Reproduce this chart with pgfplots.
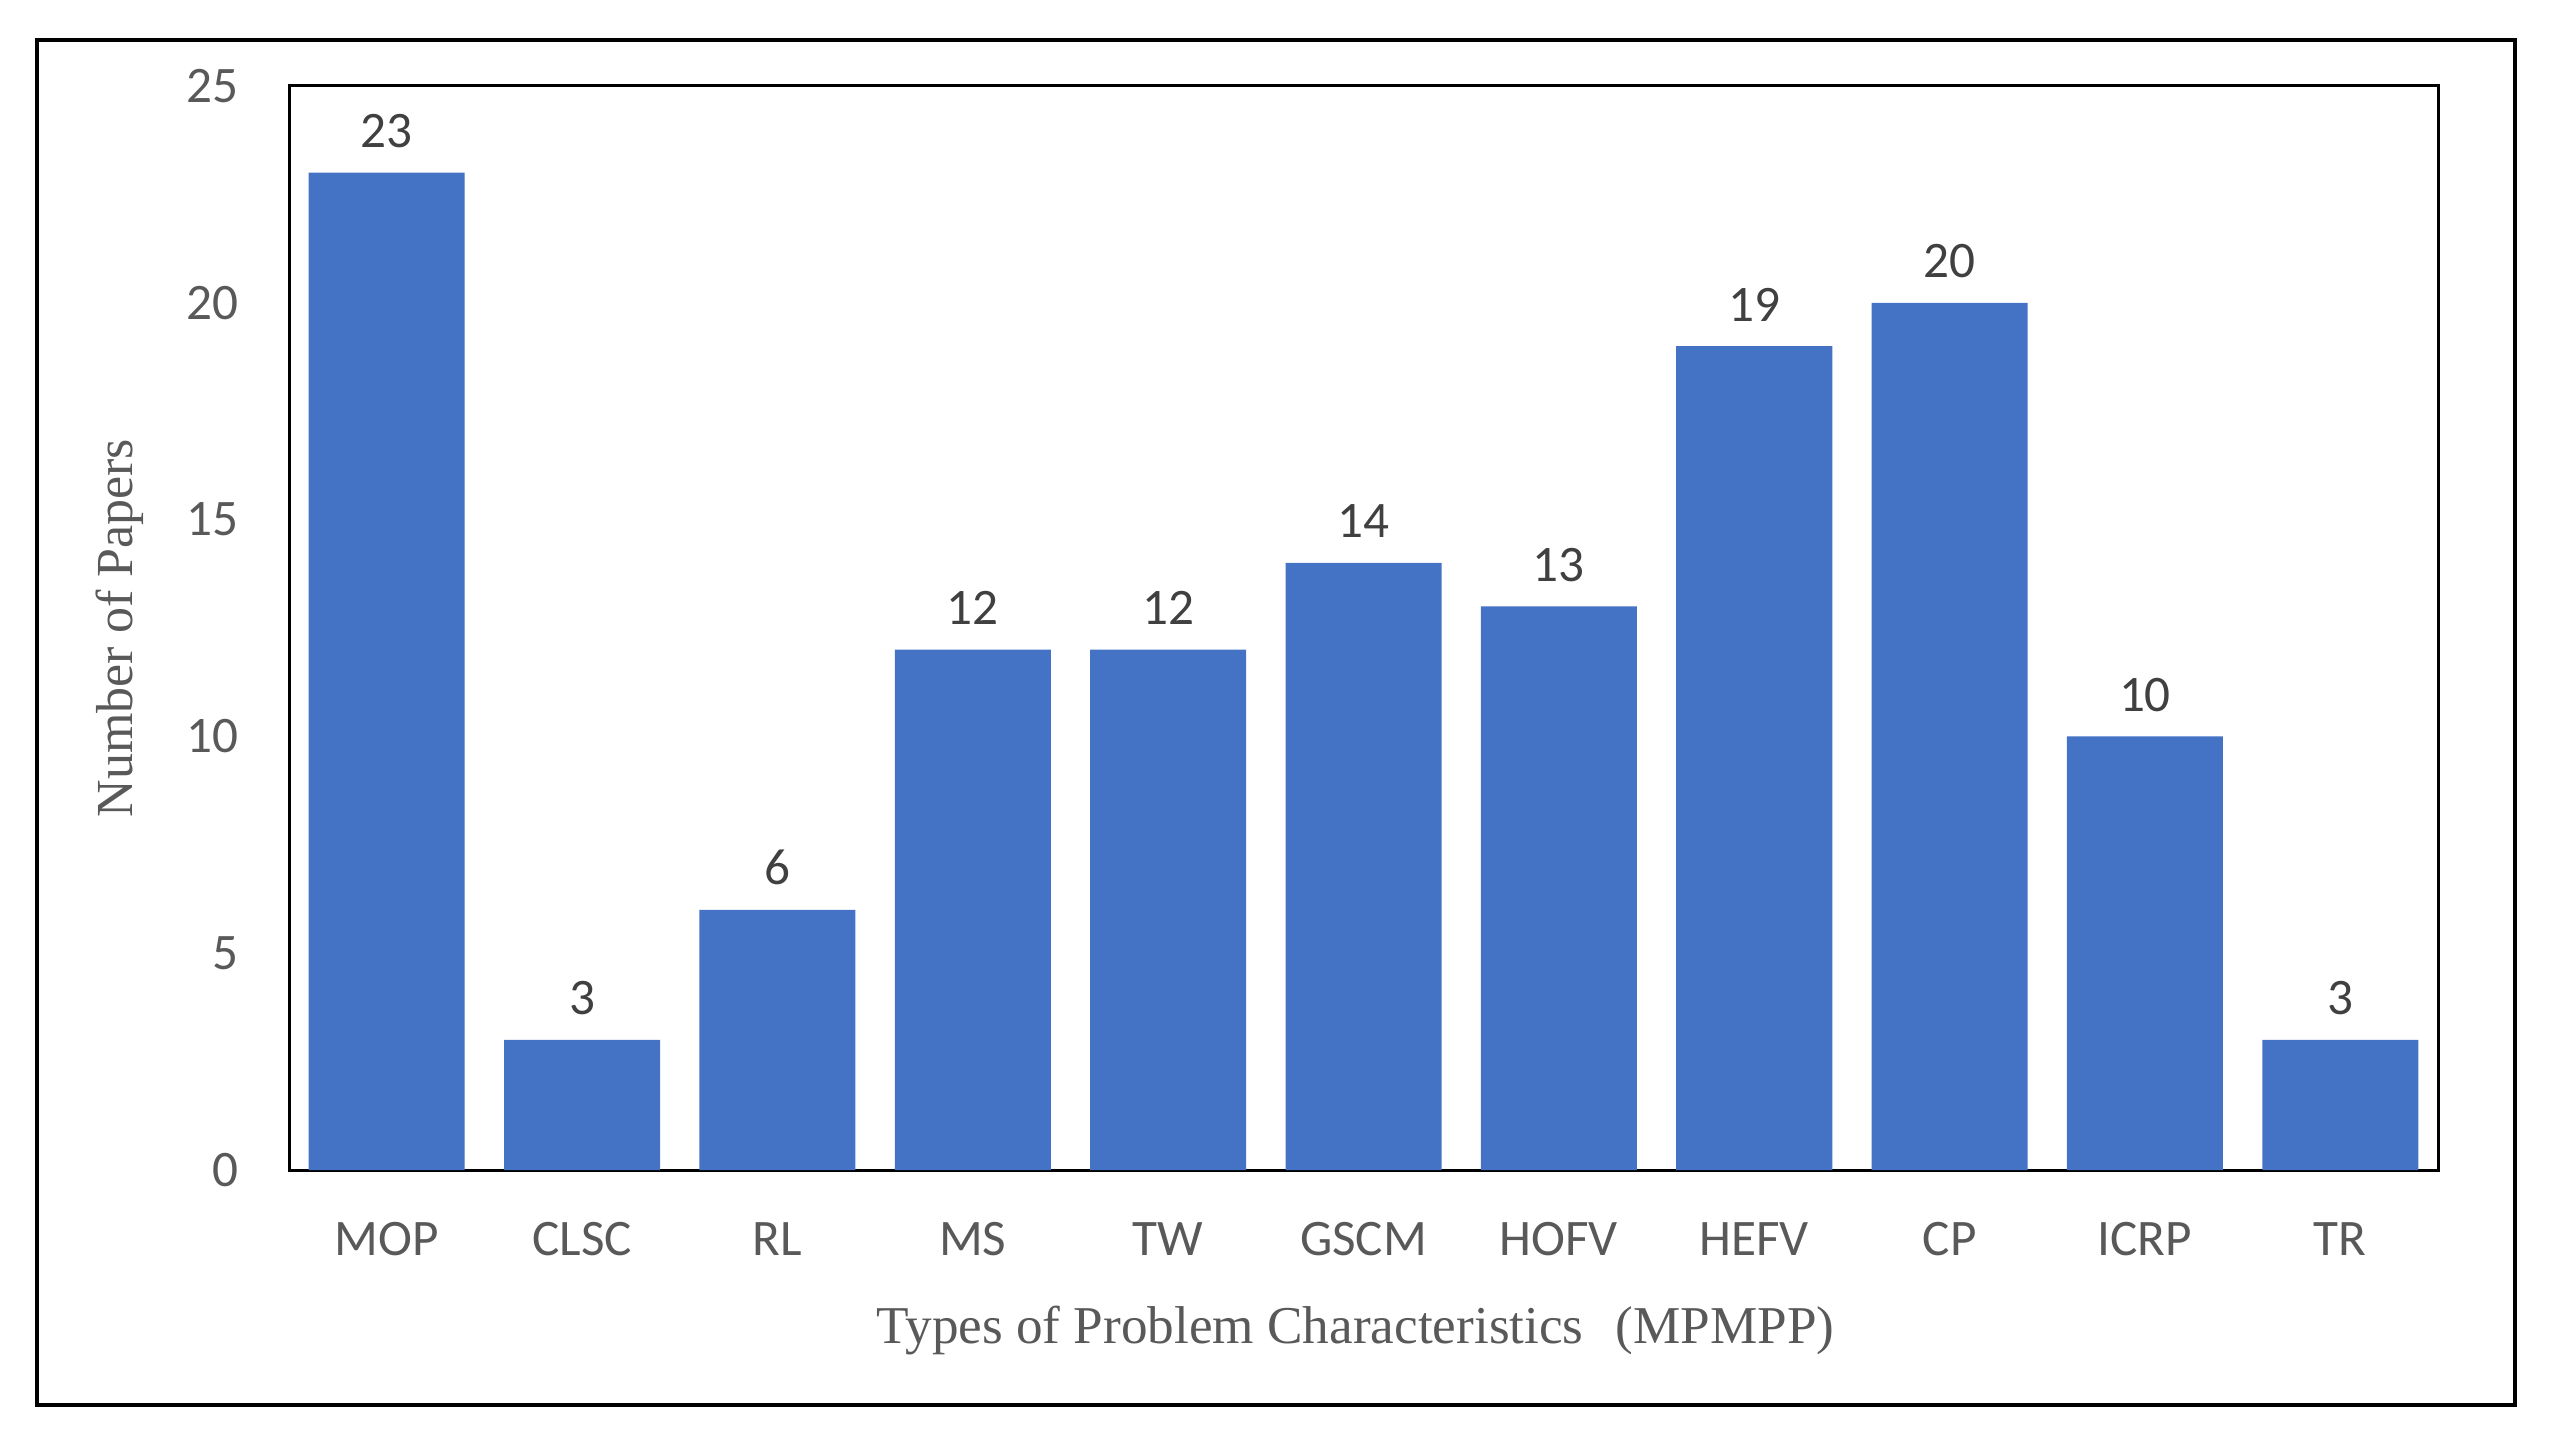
\documentclass[border=0pt]{standalone}
\usepackage{pgfplots}
\pgfplotsset{compat=1.18}
\usepackage{fontspec}
\setmainfont{Liberation Serif}
\newfontfamily\calibri{Carlito}
\definecolor{barblue}{HTML}{4472C4}
\definecolor{ticktext}{HTML}{595959}
\definecolor{valtext}{HTML}{404040}
\begin{document}
\begin{tikzpicture}
\useasboundingbox (0,0) rectangle (639pt,361pt);
\draw[line width=1pt] (9.25pt,9.75pt) rectangle (628.75pt,351pt);
\begin{axis}[
  at={(72.25pt,68.5pt)}, anchor=south west,
  scale only axis, width=537.25pt, height=271pt,
  axis line style={line width=0.75pt, black},
  xmin=-0.5, xmax=10.5, ymin=0, ymax=25,
  xtick=data,
  xticklabels={MOP,CLSC,RL,MS,TW,GSCM,HOFV,HEFV,CP,ICRP,TR},
  ytick={0,5,10,15,20,25},
  major tick length=0pt,
  /pgf/number format/assume math mode=true,
  ticklabel style={font=\calibri\fontsize{12.8}{15}\selectfont, text=ticktext},
  xticklabel style={anchor=base, inner sep=0pt, yshift=-21.25pt},
  yticklabel style={anchor=east, inner sep=0pt, xshift=-12.5pt},
  ybar, bar width=39pt,
  nodes near coords,
  every node near coord/.append style={font=\calibri\fontsize{12.8}{15}\selectfont, text=valtext, anchor=base, inner sep=0pt, yshift=6.25pt},
  xlabel={Types of Problem Characteristics\hspace{0.6em}(MPMPP)\hspace{0.5em}},
  ylabel={Number of Papers},
  xlabel style={font=\fontsize{13.3}{15}\selectfont, text=ticktext, at={([yshift=-43.25pt,xshift=-2pt]axis description cs:0.5,0)}, anchor=base, inner sep=0pt},
  ylabel style={font=\fontsize{13}{15}\selectfont, text=ticktext, at={([xshift=-39pt]axis description cs:0,0.5)}, rotate=0, anchor=base, inner sep=0pt},
]
\addplot[fill=barblue, draw=none] coordinates {
(0,23) (1,3) (2,6) (3,12) (4,12) (5,14) (6,13) (7,19) (8,20) (9,10) (10,3)
};
\end{axis}
\end{tikzpicture}
\end{document}
